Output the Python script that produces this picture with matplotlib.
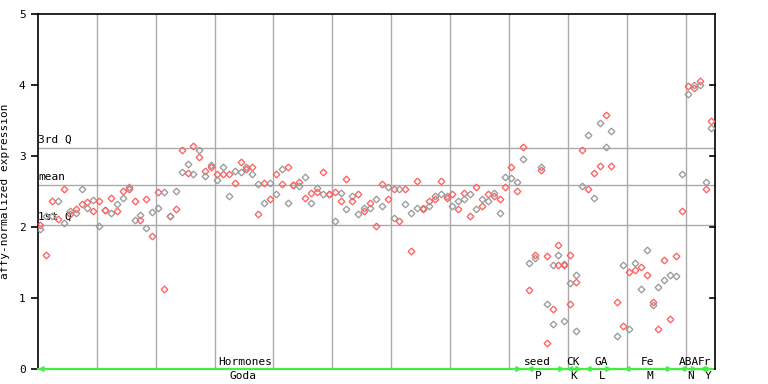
import matplotlib
matplotlib.use("Agg")
import matplotlib.pyplot as plt

# expression values, one list per sample column (replicates share an x position)
columns = [
    [2.03, 1.97], [2.16, 1.60], [2.36, 2.15], [2.36, 2.11], [2.53, 2.06],
    [2.23, 2.19], [2.25, 2.20], [2.54, 2.33], [2.35, 2.27], [2.38, 2.22],
    [2.36, 2.02], [2.24, 2.24], [2.41, 2.20], [2.32, 2.22], [2.51, 2.41],
    [2.56, 2.54], [2.36, 2.10], [2.17, 2.10], [2.39, 1.99], [2.21, 1.88],
    [2.50, 2.27], [2.50, 1.13], [2.15, 2.15], [2.51, 2.25], [3.09, 2.78],
    [2.89, 2.76], [3.14, 2.74], [3.09, 2.98], [2.79, 2.72], [2.88, 2.85],
    [2.74, 2.66], [2.84, 2.75], [2.75, 2.43], [2.79, 2.62], [2.91, 2.77],
    [2.85, 2.81], [2.84, 2.75], [2.60, 2.18], [2.62, 2.34], [2.62, 2.40],
    [2.75, 2.46], [2.82, 2.60], [2.84, 2.34], [2.59, 2.59], [2.64, 2.58],
    [2.70, 2.41], [2.48, 2.34], [2.55, 2.49], [2.78, 2.46], [2.47, 2.47],
    [2.50, 2.08], [2.48, 2.37], [2.67, 2.25], [2.43, 2.37], [2.46, 2.19],
    [2.27, 2.23], [2.34, 2.27], [2.40, 2.01], [2.61, 2.29], [2.57, 2.39],
    [2.54, 2.12], [2.53, 2.09], [2.54, 2.32], [2.20, 1.66], [2.65, 2.27],
    [2.27, 2.25], [2.37, 2.29], [2.44, 2.39], [2.65, 2.46], [2.44, 2.41],
    [2.46, 2.29], [2.36, 2.25], [2.48, 2.40], [2.47, 2.16], [2.57, 2.25],
    [2.39, 2.29], [2.46, 2.36], [2.48, 2.44], [2.39, 2.20], [2.71, 2.57],
    [2.85, 2.69], [2.63, 2.51], [3.13, 2.96], [1.50, 1.11], [1.61, 1.56],
    [2.85, 2.80], [1.59, 0.92, 0.37], [1.46, 0.85, 0.64], [1.75, 1.61, 1.47],
    [1.48, 1.46, 0.68], [1.61, 1.21, 0.91], [1.33, 1.22, 0.54], [3.09, 2.58],
    [3.30, 2.54], [2.76, 2.41], [3.47, 2.86], [3.58, 3.12], [3.35, 2.86],
    [0.94, 0.47], [1.47, 0.61], [1.36, 0.56], [1.49, 1.39], [1.44, 1.13],
    [1.67, 1.33], [0.94, 0.90], [1.16, 0.57], [1.53, 1.26], [1.33, 0.70],
    [1.59, 1.31], [2.75, 2.23], [3.99, 3.88], [4.00, 3.96], [4.05, 4.00],
    [2.63, 2.54], [3.50, 3.40],
]

stat_names = ["3rd Q", "mean", "1st Q"]
stat_values = [3.11, 2.59, 2.03]

groups = ["Hormones", "seed", "CK", "GA", "Fe", "ABA", "Fr"]
sources = ["Goda", "P", "K", "L", "M", "N", "Y"]
group_start = [0.0, 83.0, 89.8, 92.9, 99.5, 109.0, 112.4]
group_end = [82.2, 89.5, 92.4, 97.5, 107.8, 112.0, 114.4]
group_center = [35.2, 84.8, 90.8, 95.6, 103.6, 110.6, 113.2]
source_center = [34.8, 85.0, 91.0, 95.9, 104.0, 110.8, 113.8]

RED = "#ff6060"
GRAY = "#9a9a9a"
GREEN = "#44ee44"
mono = "DejaVu Sans Mono"

fig = plt.figure(figsize=(7.68, 3.84), dpi=100)
ax = fig.add_axes([38 / 768, 15 / 384, 677 / 768, 355 / 384])
ax.set_xlim(0, 115)
ax.set_ylim(0, 5)

# grid lines
for gx in range(10, 115, 10):
    ax.axvline(gx, color="#aaaaaa", lw=1, zorder=1)
for name, val in zip(stat_names, stat_values):
    ax.axhline(val, color="#aaaaaa", lw=1, zorder=1)
    ax.text(0, val + 0.05, name, fontsize=8, family=mono, ha="left", va="bottom")

# data points
for i, col in enumerate(columns):
    for k, v in enumerate(col):
        c = RED if (i + k) % 2 == 0 else GRAY
        ax.plot(i + 0.4, v, marker="D", ms=3.4, mfc="none", mec=c, mew=0.95,
                linestyle="none", zorder=3)

# group bars along the bottom
ax.plot([0, 114.6], [0, 0], color=GREEN, lw=1.6, zorder=4, clip_on=False)
for s, e in zip(group_start, group_end):
    ax.annotate("", xy=(e, 0), xytext=(s, 0),
                arrowprops=dict(arrowstyle="<|-|>", color=GREEN, lw=1.0,
                                mutation_scale=8, shrinkA=0, shrinkB=0),
                annotation_clip=False, zorder=5)
for g, gx in zip(groups, group_center):
    ax.text(gx, 0.03, g, fontsize=8, family=mono, ha="center", va="bottom")
for s, sx in zip(sources, source_center):
    ax.text(sx, -0.03, s, fontsize=8, family=mono, ha="center", va="top")

# axes styling
for side in ["top", "left", "right", "bottom"]:
    ax.spines[side].set_color("black")
    ax.spines[side].set_linewidth(1.2)
ax.set_xticks([])
ax.set_yticks(range(6))
ax.set_yticklabels([str(v) for v in range(6)], family=mono, fontsize=8)
ax.tick_params(axis="y", direction="out", length=5, width=1.2, left=True,
               right=False, pad=4)
for v in range(1, 5):
    ax.plot([114.1, 115], [v, v], color="black", lw=1.2, clip_on=False, zorder=6)
ax.set_ylabel("affy-normalized expression", family=mono, fontsize=8, labelpad=6)

fig.savefig("out.png", dpi=100)
